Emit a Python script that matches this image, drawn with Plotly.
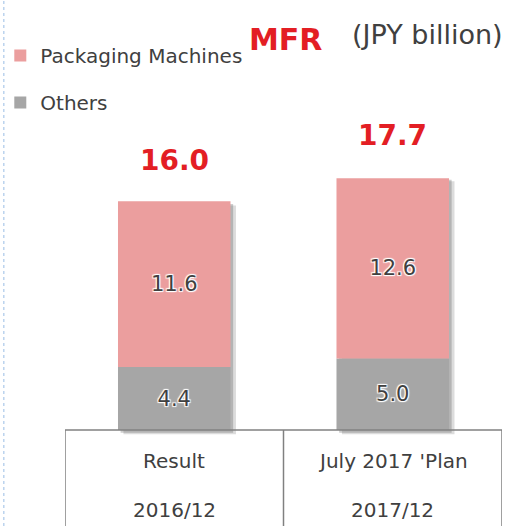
import plotly.graph_objects as go

categories = ["2016/12", "2017/12"]
category_top = ["Result", "July 2017 'Plan"]
others = [4.4, 5.0]
packaging = [11.6, 12.6]
totals = [16.0, 17.7]

PINK = "#eb9e9e"
GRAY = "#a6a6a6"
RED = "#e31e24"
TXT = "#404040"
FONT = "DejaVu Sans"
BW = 0.515

x = [0, 1]
halo = "1px 1px 1px white, -1px -1px 1px white, 1px -1px 1px white, -1px 1px 1px white"

fig = go.Figure()
# soft drop shadow behind the stacked bars
fig.add_trace(go.Bar(x=x, y=totals, base=[-0.3, -0.3], width=BW, offset=-BW / 2 + 0.025,
                     marker=dict(color="rgba(60,60,60,0.18)", line=dict(width=0)),
                     showlegend=False, hoverinfo="skip"))
fig.add_trace(go.Bar(x=x, y=totals, base=[-0.2, -0.2], width=BW, offset=-BW / 2 + 0.012,
                     marker=dict(color="rgba(60,60,60,0.25)", line=dict(width=0)),
                     showlegend=False, hoverinfo="skip"))
fig.add_trace(go.Bar(x=x, y=others, name="Others", width=BW, marker=dict(color=GRAY, line=dict(width=0)),
                     text=[f"{v:.1f}" for v in others], textposition="inside", insidetextanchor="middle",
                     textfont=dict(family=FONT, size=21, color=TXT, shadow=halo),
                     legendgroup="o", legendrank=2))
fig.add_trace(go.Bar(x=x, y=packaging, base=others, name="Packaging Machines", width=BW,
                     marker=dict(color=PINK, line=dict(width=0)),
                     text=[f"{v:.1f}" for v in packaging], textposition="inside", insidetextanchor="middle",
                     textfont=dict(family=FONT, size=21, color=TXT, shadow=halo),
                     legendgroup="p", legendrank=1))

ann = []
for xi, t in zip(x, totals):
    ann.append(dict(x=xi, y=t, xref="x", yref="y", text=f"<b>{t:.1f}</b>", showarrow=False,
                    xanchor="center", yanchor="middle", yshift=41, font=dict(family=FONT, size=28, color=RED)))
for xi, a, b in zip(x, category_top, categories):
    ann.append(dict(x=xi, y=1 - 461 / 526, xref="x", yref="paper", text=a, showarrow=False,
                    xanchor="center", yanchor="middle", font=dict(family=FONT, size=20, color=TXT)))
    ann.append(dict(x=xi, y=1 - 510 / 526, xref="x", yref="paper", text=b, showarrow=False,
                    xanchor="center", yanchor="middle", font=dict(family=FONT, size=20, color=TXT)))
ann.append(dict(x=(285 - 63) / 439, y=1 - 39 / 526, xref="paper", yref="paper", text="<b>MFR</b>",
                showarrow=False, xanchor="center", yanchor="middle", font=dict(family=FONT, size=30, color=RED)))
ann.append(dict(x=(427 - 63) / 439, y=1 - 35 / 526, xref="paper", yref="paper", text="(JPY billion)",
                showarrow=False, xanchor="center", yanchor="middle", font=dict(family=FONT, size=27, color=TXT)))

shapes = [
    dict(type="line", xref="x", yref="y", x0=-0.5, x1=1.5, y0=0, y1=0, line=dict(color="#808080", width=1.5)),
]
for xv in [-0.5, 0.5, 1.5]:
    shapes.append(dict(type="line", xref="x", yref="y", x0=xv, x1=xv, y0=0, y1=-8,
                       line=dict(color="#808080", width=1.5)))
shapes.append(dict(type="line", xref="paper", yref="paper", x0=(1.5 - 63) / 439, x1=(1.5 - 63) / 439,
                   y0=0, y1=1, line=dict(color="#bcd3ee", width=1.5, dash="dot")))

fig.update_layout(
    width=506, height=526,
    margin=dict(l=63, r=4, t=0, b=0),
    paper_bgcolor="white", plot_bgcolor="white",
    barmode="overlay",
    xaxis=dict(range=[-0.5, 1.5], visible=False, fixedrange=True),
    yaxis=dict(range=[-96 / 14.3, 430 / 14.3], visible=False, fixedrange=True),
    showlegend=True,
    legend=dict(x=(-2 - 63) / 439, y=1 - 36 / 526, xanchor="left", yanchor="top",
                traceorder="grouped", tracegroupgap=18, bgcolor="rgba(0,0,0,0)",
                font=dict(family=FONT, size=20, color=TXT)),
    annotations=ann, shapes=shapes,
    font=dict(family=FONT),
)
fig.write_html("out.html", config={"displayModeBar": False},
               post_script="document.body.style.margin='0';document.body.style.overflow='hidden';")
